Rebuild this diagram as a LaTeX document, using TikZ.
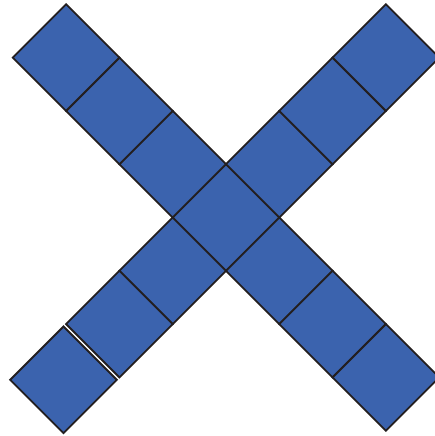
\documentclass[tikz,border=0pt]{standalone}
\definecolor{tileblue}{RGB}{59,99,174}
\definecolor{tileline}{RGB}{35,31,32}
\tikzset{tile/.style={fill=tileblue,draw=tileline,line width=1.8pt,line join=miter}}
\begin{document}
\begin{tikzpicture}[x=1pt,y=-1pt]
\useasboundingbox (0,0) rectangle (435,436);
\clip (0,0) rectangle (435,436);
\def\hh{53.3}
\def\cx{226}
\def\cy{217.5}
% center and arms (top-left, top-right, bottom-right)
\foreach \dx/\dy in {0/0,
  -1/-1,-2/-2,-3/-3,
  1/-1,2/-2,3/-3,
  1/1,2/2,3/3,
  -1/1,-2/2}{
  \path[tile] ({\cx+\dx*\hh},{\cy+\dy*\hh-\hh}) -- ++(\hh,\hh) -- ++(-\hh,\hh) -- ++(-\hh,-\hh) -- cycle;
}
% bottom-left end tile, slightly detached
\path[tile] ({\cx-3*\hh-2.6},{\cy+3*\hh+2.4-\hh}) -- ++(\hh,\hh) -- ++(-\hh,\hh) -- ++(-\hh,-\hh) -- cycle;
\end{tikzpicture}
\end{document}
